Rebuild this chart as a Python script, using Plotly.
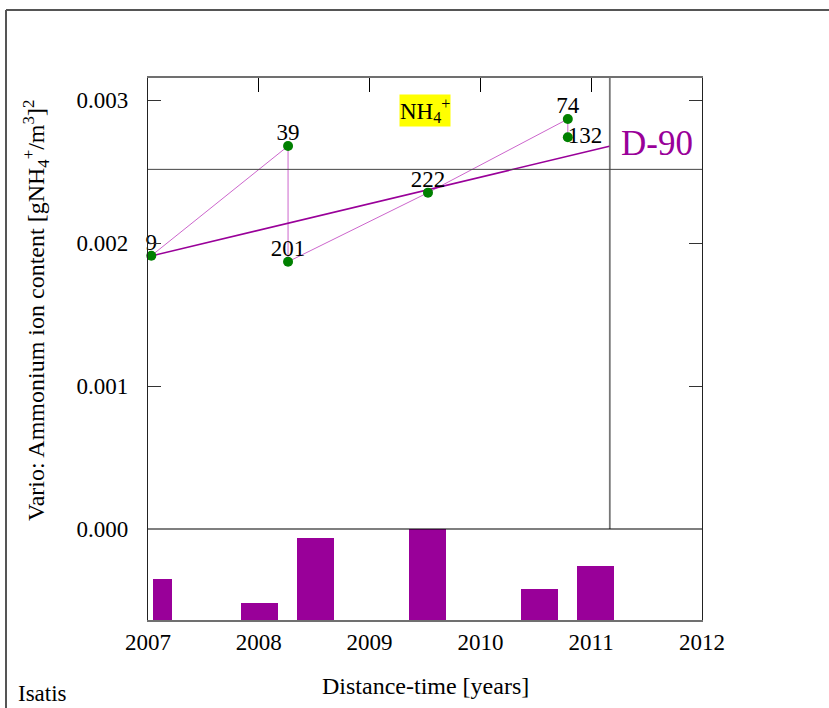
import plotly.graph_objects as go

# ---------------- data ----------------
lag_years = [2007.03, 2008.264, 2008.264, 2009.527, 2010.789, 2010.789]
vario_values = [0.001911, 0.002678, 0.001869, 0.002352, 0.002867, 0.002739]
pair_labels = ["9", "39", "201", "222", "74", "132"]

model_x = [2007.0, 2011.164]
model_y = [0.001904, 0.002676]
model_name = "D-90"

sill_value = 0.002515
max_lag = 2011.168

bar_centers = [2007.127, 2008.010, 2008.515, 2009.526, 2010.534, 2011.039]
bar_widths = [0.171, 0.334, 0.334, 0.334, 0.334, 0.334]
bar_counts = [100, 41, 201, 222, 75, 132]

x_ticks = [2007, 2008, 2009, 2010, 2011, 2012]
y_ticks = [0.0, 0.001, 0.002, 0.003]
y_tick_text = ["0.000", "0.001", "0.002", "0.003"]

x_title = "Distance-time [years]"
y_title = "Vario: Ammonium ion content [gNH<sub>4</sub><sup>+</sup>/m<sup>3</sup>]<sup>2</sup>"
var_label = "NH<sub>4</sub><sup>+</sup>"
footer = "Isatis"

# ---------------- layout geometry ----------------
W, H = 829, 708
L, R, T, B = 148, 127, 78, 88
PW, PH = W - L - R, H - T - B
def px(xp):
    return (xp - L) / PW
def py(yp):
    return (H - B - yp) / PH

FONT = "Liberation Serif"
PURPLE = "#990099"
LIGHT = "#cc66cc"

fig = go.Figure()

# histogram of pairs (bottom strip)
fig.add_trace(go.Bar(
    x=bar_centers, y=bar_counts, width=bar_widths,
    marker=dict(color=PURPLE, line=dict(width=0)),
    xaxis="x", yaxis="y2", showlegend=False, hoverinfo="skip",
))

# experimental variogram
fig.add_trace(go.Scatter(
    x=lag_years, y=vario_values, mode="lines",
    line=dict(color=LIGHT, width=1), showlegend=False, hoverinfo="skip",
))
# model
fig.add_trace(go.Scatter(
    x=model_x, y=model_y, mode="lines",
    line=dict(color=PURPLE, width=1.5), showlegend=False, hoverinfo="skip",
))
# labels (text only, hugging the points)
fig.add_trace(go.Scatter(
    x=lag_years, y=vario_values, mode="text",
    text=pair_labels,
    textposition=["top center", "top center", "top center", "top center", "top center", "middle right"],
    textfont=dict(family=FONT, size=23, color="black"),
    showlegend=False, hoverinfo="skip", cliponaxis=False,
))
# points
fig.add_trace(go.Scatter(
    x=lag_years, y=vario_values, mode="markers",
    marker=dict(color="#008000", size=10),
    showlegend=False, hoverinfo="skip", cliponaxis=False,
))

shapes = [
    dict(type="line", xref="paper", x0=0, x1=1, yref="y", y0=sill_value, y1=sill_value,
         line=dict(color="#444444", width=1)),
    dict(type="line", xref="paper", x0=0, x1=1, yref="y", y0=0, y1=0,
         line=dict(color="black", width=1.2)),
    dict(type="line", xref="x", x0=max_lag, x1=max_lag, yref="paper", y0=0, y1=1,
         line=dict(color="#777777", width=1.8), layer="below"),
    dict(type="line", xref="paper", yref="paper", x0=px(6), x1=px(829), y0=py(10), y1=py(10),
         line=dict(color="#555555", width=2)),
    dict(type="line", xref="paper", yref="paper", x0=px(6), x1=px(6), y0=py(10), y1=py(708),
         line=dict(color="#555555", width=2)),
]

annotations = [
    dict(text=model_name, xref="paper", yref="paper", x=px(619), y=py(143),
         xanchor="left", yanchor="middle", showarrow=False,
         font=dict(family=FONT, size=35, color=PURPLE)),
    dict(text=var_label, xref="paper", yref="paper", x=px(425), y=py(111),
         xanchor="center", yanchor="middle", showarrow=False, bgcolor="#ffff00",
         borderpad=0, font=dict(family=FONT, size=23, color="black")),
    dict(text=y_title, xref="paper", yref="paper", x=px(36), y=py(311),
         xanchor="center", yanchor="middle", textangle=-90, showarrow=False,
         font=dict(family=FONT, size=24, color="black")),
    dict(text=x_title, xref="paper", yref="paper", x=0.5, y=py(686),
         xanchor="center", yanchor="middle", showarrow=False,
         font=dict(family=FONT, size=24, color="black")),
    dict(text=footer, xref="paper", yref="paper", x=px(16), y=py(693),
         xanchor="left", yanchor="middle", showarrow=False,
         font=dict(family=FONT, size=23, color="black")),
]

y_top = (529 - T) / 143.0 * 0.001
y_bot = -(H - B - 529) / 143.0 * 0.001

fig.update_layout(
    width=W, height=H,
    margin=dict(l=L, r=R, t=T, b=B, pad=0),
    paper_bgcolor="white", plot_bgcolor="white",
    font=dict(family=FONT, size=23, color="black"),
    shapes=shapes, annotations=annotations,
    bargap=0,
    xaxis=dict(
        range=[2007, 2012], tickvals=x_ticks, ticktext=[str(v) for v in x_ticks],
        ticks="inside", ticklen=14, tickcolor="black", tickwidth=1,
        showline=True, linecolor="#707070", linewidth=2, mirror="ticks",
        showgrid=False, zeroline=False,
        tickfont=dict(family=FONT, size=23, color="black"),
    ),
    yaxis=dict(
        range=[y_bot, y_top], tickvals=y_ticks, ticktext=y_tick_text,
        ticks="inside", ticklen=13, tickcolor="#333333", tickwidth=1,
        showline=True, linecolor="#222222", linewidth=1.3, mirror="ticks",
        showgrid=False, zeroline=False, ticklabelstandoff=14,
        tickfont=dict(family=FONT, size=23, color="black"),
    ),
    yaxis2=dict(
        domain=[0, (H - B - 529) / PH], range=[0, 222], anchor="x",
        showticklabels=False, showgrid=False, zeroline=False, showline=False, ticks="",
    ),
)

fig.write_html("out.html", config={"displayModeBar": False},
               post_script="document.body.style.margin='0';document.body.style.overflow='hidden';")
